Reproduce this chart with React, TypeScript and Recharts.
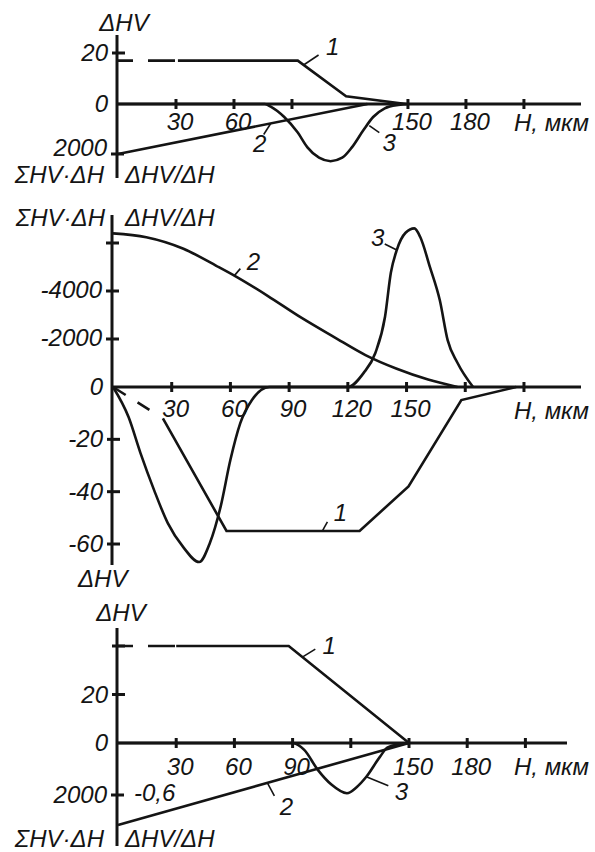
import React from "react";
import { LineChart, Line, XAxis, YAxis, ReferenceLine, ReferenceDot } from "recharts";

const INK = "#141414";
const FONT = "'Liberation Sans', Arial, sans-serif";

// ---------- top panel ----------
const p1DashH = [0, 31];
const p1DashHV = [17, 17];
const p1Curve1H = [31, 93, 118, 149];
const p1Curve1HV = [17, 17, 3, 0];
const p1Curve2H = [0, 129];
const p1Curve2Sum = [2000, 0];
const p1Curve3H = [0, 76, 79, 86, 93, 98, 104, 110, 116, 121, 127, 132, 138, 145, 150];
const p1Curve3D = [0, 0, -0.03, -0.15, -0.33, -0.5, -0.62, -0.66, -0.62, -0.5, -0.3, -0.15, -0.05, -0.01, 0];
const p1XTicks = [30, 60, 90, 150, 180, 210];
const p1XLabels = ["30", "60", "", "150", "180", ""];
const p1HVTicks = [20, 0];
const p1HVLabels = ["20", "0"];
const p1SumTicks = [2000];
const p1SumLabels = ["2000"];
const p1TagH = [96, 79, 130];
const p1TagV = [15.3, 778, -0.25];

// ---------- middle panel ----------
const p2DashH = [0, 25.5];
const p2DashHV = [0, -12];
const p2Curve1H = [25.5, 58, 126, 151, 178, 206];
const p2Curve1HV = [-12, -55, -55, -38, -5, 0];
const p2Curve2H = [0, 17, 36, 53, 62, 79, 96, 113, 129, 145, 161, 176];
const p2Curve2Sum = [-6400, -6240, -5760, -5040, -4640, -3800, -2900, -2080, -1330, -760, -310, 0];
const p2Curve3H = [0, 8, 14, 21, 28, 36, 44, 49.5, 55, 60, 65, 71, 80, 120, 128, 134, 139, 142, 145, 149.5, 154, 157, 162, 167, 171, 176, 184];
const p2Curve3D = [0, -0.35, -0.76, -1.19, -1.57, -1.85, -2.02, -1.8, -1.38, -0.84, -0.42, -0.15, 0, 0, 0.16, 0.39, 0.81, 1.32, 1.58, 1.78, 1.83, 1.73, 1.38, 1.0, 0.54, 0.28, 0];
const p2XTicks = [30, 60, 90, 120, 150, 180, 210];
const p2XLabels = ["30", "60", "90", "120", "150", "", ""];
const p2HVTicks = [0, -20, -40, -60];
const p2HVLabels = ["0", "-20", "-40", "-60"];
const p2SumTicks = [-2000, -4000, -6000];
const p2SumLabels = ["-2000", "-4000", ""];
const p2TagH = [107, 62, 145];
const p2TagV = [-55, -4640, 1.58];

// ---------- bottom panel ----------
const p3DashH = [0, 30];
const p3DashHV = [40, 40];
const p3Curve1H = [30, 88, 150];
const p3Curve1HV = [40, 40, 0];
const p3Curve2H = [0, 150];
const p3Curve2Sum = [3150, 0];
const p3Curve3H = [0, 90, 96, 103, 110, 118, 123, 128, 135, 139, 147, 150];
const p3Curve3D = [0, 0, -0.08, -0.31, -0.48, -0.58, -0.51, -0.39, -0.16, -0.05, -0.01, 0];
const p3XTicks = [30, 60, 90, 120, 150, 180, 210];
const p3XLabels = ["30", "60", "90", "", "150", "180", ""];
const p3HVTicks = [40, 20, 0];
const p3HVLabels = ["", "20", "0"];
const p3SumTicks = [2000];
const p3SumLabels = ["2000"];
const p3DerTicks = [-0.6];
const p3DerLabels = ["-0,6"];
const p3TagH = [95, 77, 128];
const p3TagV = [35.4, 1533, -0.39];

const tagText = ["1", "2", "3"];
const tagAxis = ["hv", "sum", "der"];

type Pt = { h: number; v: number };
const zip = (h: number[], v: number[]): Pt[] => h.map((x, i) => ({ h: x, v: v[i] }));

type Layout = {
  top: number; bottom: number; left: number; right: number; zero: number;
  pxH: number; pxHV: number; pxSum: number; pxDer: number; tickDy: number; sumDy: number;
};

// pixel frame of each panel and pixels per unit on every axis
const L1: Layout = { top: 35, bottom: 178, left: 118, right: 581, zero: 104, pxH: 1.933, pxHV: 2.55, pxSum: 0.025, pxDer: 86.67, tickDy: 26, sumDy: 2 };
const L2: Layout = { top: 215, bottom: 565, left: 113, right: 581, zero: 387, pxH: 1.957, pxHV: 2.617, pxSum: 0.024, pxDer: 86.67, tickDy: 30, sumDy: 7 };
const L3: Layout = { top: 628, bottom: 846, left: 118, right: 567, zero: 743, pxH: 1.94, pxHV: 2.425, pxSum: 0.026, pxDer: 86.67, tickDy: 32, sumDy: 8 };

// leader line end (lx, ly) and label spot (tx, ty) for tags "1","2","3"
const tagOff1 = [
  { lx: 15, ly: -10, tx: 29, ty: -10 },
  { lx: -7, ly: 11, tx: -11, ty: 29 },
  { lx: 10, ly: 7, tx: 20, ty: 25 },
];
const tagOff2 = [
  { lx: 5, ly: -9, tx: 18, ty: -10 },
  { lx: 6, ly: -7, tx: 19, ty: -6 },
  { lx: -12, ly: -6, tx: -19, ty: -4 },
];
const tagOff3 = [
  { lx: 13, ly: -8, tx: 27, ty: -3 },
  { lx: 7, ly: 13, tx: 19, ty: 32 },
  { lx: 22, ly: 9, tx: 35, ty: 23 },
];

const upDomain = (l: Layout, ppu: number) => [-(l.bottom - l.zero) / ppu, (l.zero - l.top) / ppu];
const downDomain = (l: Layout, ppu: number) => [-(l.zero - l.top) / ppu, (l.bottom - l.zero) / ppu];

const NUM = 24;
const TITLE = 24;
const txt = { fontFamily: FONT, fontStyle: "italic" as const, fill: INK };

const yTick = (ticks: number[], labels: string[], dy: number, side: "left" | "right" = "left") => (props: any) => {
  const { x, y, payload } = props;
  const i = ticks.indexOf(payload.value);
  const label = i >= 0 ? labels[i] : "";
  if (side === "right") {
    return (
      <text x={x + 16} y={y + 6} fontSize={NUM} {...txt}>
        {label}
      </text>
    );
  }
  return (
    <g>
      {payload.value !== 0 && <line x1={x - 5} x2={x + 8} y1={y} y2={y} stroke={INK} strokeWidth={3} />}
      <text x={x - 9} y={y + dy} textAnchor="end" fontSize={NUM} {...txt}>
        {label}
      </text>
    </g>
  );
};

const xTickShape = (label: string, dy: number) => (p: any) => (
  <g>
    <line x1={p.cx} x2={p.cx} y1={p.cy - 5} y2={p.cy + 5} stroke={INK} strokeWidth={3} />
    {label ? (
      <text x={p.cx + 4} y={p.cy + dy} textAnchor="middle" fontSize={NUM} {...txt}>
        {label}
      </text>
    ) : null}
  </g>
);

const tagShape = (text: string, o: { lx: number; ly: number; tx: number; ty: number }) => (p: any) => (
  <g>
    <line x1={p.cx} y1={p.cy} x2={p.cx + o.lx} y2={p.cy + o.ly} stroke={INK} strokeWidth={1.6} />
    <text x={p.cx + o.tx} y={p.cy + o.ty} textAnchor="middle" fontSize={NUM} {...txt}>
      {text}
    </text>
  </g>
);

type Series = { pts: Pt[]; axis: string; dash?: string; smooth?: boolean };

type PanelProps = {
  l: Layout;
  series: Series[];
  xTicks: number[];
  xLabels: string[];
  hvTicks: number[];
  hvLabels: string[];
  sumTicks: number[];
  sumLabels: string[];
  derTicks?: number[];
  derLabels?: string[];
  tagH: number[];
  tagV: number[];
  tagOff: { lx: number; ly: number; tx: number; ty: number }[];
};

function Panel(props: PanelProps) {
  const { l } = props;
  const xMax = (l.right - l.left) / l.pxH;
  // every visible y axis is 1px wide and they all sit on the same vertical line
  const axisCount = props.derTicks ? 3 : 2;
  return (
    <div style={{ position: "absolute", left: 0, top: 0 }}>
      <LineChart
        width={595}
        height={852}
        margin={{ top: l.top, bottom: 852 - l.bottom, left: l.left - axisCount, right: 595 - l.right }}
      >
        <XAxis type="number" dataKey="h" domain={[0, xMax]} hide />
        <YAxis
          yAxisId="hv"
          type="number"
          domain={upDomain(l, l.pxHV)}
          allowDataOverflow
          width={1}
          ticks={props.hvTicks}
          interval={0}
          tickSize={0}
          tickMargin={0}
          tickLine={false}
          axisLine={{ stroke: INK, strokeWidth: 3 }}
          tick={yTick(props.hvTicks, props.hvLabels, 8)}
        />
        <YAxis
          yAxisId="sum"
          type="number"
          reversed
          domain={downDomain(l, l.pxSum)}
          allowDataOverflow
          width={1}
          ticks={props.sumTicks}
          interval={0}
          tickSize={0}
          tickMargin={0}
          tickLine={false}
          axisLine={false}
          tick={yTick(props.sumTicks, props.sumLabels, l.sumDy)}
        />
        <YAxis
          yAxisId="der"
          type="number"
          domain={upDomain(l, l.pxDer)}
          allowDataOverflow
          width={1}
          hide={!props.derTicks}
          ticks={props.derTicks}
          interval={0}
          tickSize={0}
          tickMargin={0}
          tickLine={false}
          axisLine={false}
          tick={yTick(props.derTicks ?? [], props.derLabels ?? [], 6, "right")}
        />
        <ReferenceLine yAxisId="hv" y={0} stroke={INK} strokeWidth={3} />
        {props.series.map((s, i) => (
          <Line
            key={i}
            data={s.pts}
            dataKey="v"
            yAxisId={s.axis}
            type={s.smooth ? "monotone" : "linear"}
            stroke={INK}
            strokeWidth={2.6}
            strokeDasharray={s.dash}
            dot={false}
            activeDot={false}
            isAnimationActive={false}
          />
        ))}
        {props.xTicks.map((t, i) => (
          <ReferenceDot
            key={"x" + t}
            yAxisId="hv"
            x={t}
            y={0}
            r={0}
            shape={xTickShape(props.xLabels[i], l.tickDy)}
          />
        ))}
        {props.tagH.map((h, i) => (
          <ReferenceDot
            key={"t" + i}
            yAxisId={tagAxis[i]}
            x={h}
            y={props.tagV[i]}
            r={0}
            shape={tagShape(tagText[i], props.tagOff[i])}
          />
        ))}
      </LineChart>
    </div>
  );
}

const titles = [
  { t: "ΔHV", x: 124, y: 31, a: "middle" },
  { t: "ΣHV·ΔH", x: 104, y: 183, a: "end" },
  { t: "ΔHV/ΔH", x: 125, y: 183, a: "start" },
  { t: "H, мкм", x: 514, y: 131, a: "start" },
  { t: "ΣHV·ΔH", x: 105, y: 226, a: "end" },
  { t: "ΔHV/ΔH", x: 125, y: 226, a: "start" },
  { t: "H, мкм", x: 514, y: 419, a: "start" },
  { t: "ΔHV", x: 78, y: 587, a: "start" },
  { t: "ΔHV", x: 121, y: 621, a: "middle" },
  { t: "ΣHV·ΔH", x: 104, y: 847, a: "end" },
  { t: "ΔHV/ΔH", x: 125, y: 847, a: "start" },
  { t: "H, мкм", x: 514, y: 775, a: "start" },
];

export default function App() {
  return (
    <div style={{ position: "absolute", left: 0, top: 0, width: 595, height: 852, background: "#fff" }}>
      <Panel
        l={L1}
        series={[
          { pts: zip(p1DashH, p1DashHV), axis: "hv", dash: "15 15 27 3" },
          { pts: zip(p1Curve1H, p1Curve1HV), axis: "hv" },
          { pts: zip(p1Curve2H, p1Curve2Sum), axis: "sum" },
          { pts: zip(p1Curve3H, p1Curve3D), axis: "der", smooth: true },
        ]}
        xTicks={p1XTicks}
        xLabels={p1XLabels}
        hvTicks={p1HVTicks}
        hvLabels={p1HVLabels}
        sumTicks={p1SumTicks}
        sumLabels={p1SumLabels}
        tagH={p1TagH}
        tagV={p1TagV}
        tagOff={tagOff1}
      />
      <Panel
        l={L2}
        series={[
          { pts: zip(p2DashH, p2DashHV), axis: "hv", dash: "15 14 14 16" },
          { pts: zip(p2Curve1H, p2Curve1HV), axis: "hv" },
          { pts: zip(p2Curve2H, p2Curve2Sum), axis: "sum", smooth: true },
          { pts: zip(p2Curve3H, p2Curve3D), axis: "der", smooth: true },
        ]}
        xTicks={p2XTicks}
        xLabels={p2XLabels}
        hvTicks={p2HVTicks}
        hvLabels={p2HVLabels}
        sumTicks={p2SumTicks}
        sumLabels={p2SumLabels}
        tagH={p2TagH}
        tagV={p2TagV}
        tagOff={tagOff2}
      />
      <Panel
        l={L3}
        series={[
          { pts: zip(p3DashH, p3DashHV), axis: "hv", dash: "15 15 27 3" },
          { pts: zip(p3Curve1H, p3Curve1HV), axis: "hv" },
          { pts: zip(p3Curve2H, p3Curve2Sum), axis: "sum" },
          { pts: zip(p3Curve3H, p3Curve3D), axis: "der", smooth: true },
        ]}
        xTicks={p3XTicks}
        xLabels={p3XLabels}
        hvTicks={p3HVTicks}
        hvLabels={p3HVLabels}
        sumTicks={p3SumTicks}
        sumLabels={p3SumLabels}
        derTicks={p3DerTicks}
        derLabels={p3DerLabels}
        tagH={p3TagH}
        tagV={p3TagV}
        tagOff={tagOff3}
      />
      <svg width={595} height={852} style={{ position: "absolute", left: 0, top: 0, pointerEvents: "none" }}>
        {titles.map((d, i) => (
          <text key={i} x={d.x} y={d.y} textAnchor={d.a as any} fontSize={TITLE} {...txt}>
            {d.t}
          </text>
        ))}
      </svg>
    </div>
  );
}
